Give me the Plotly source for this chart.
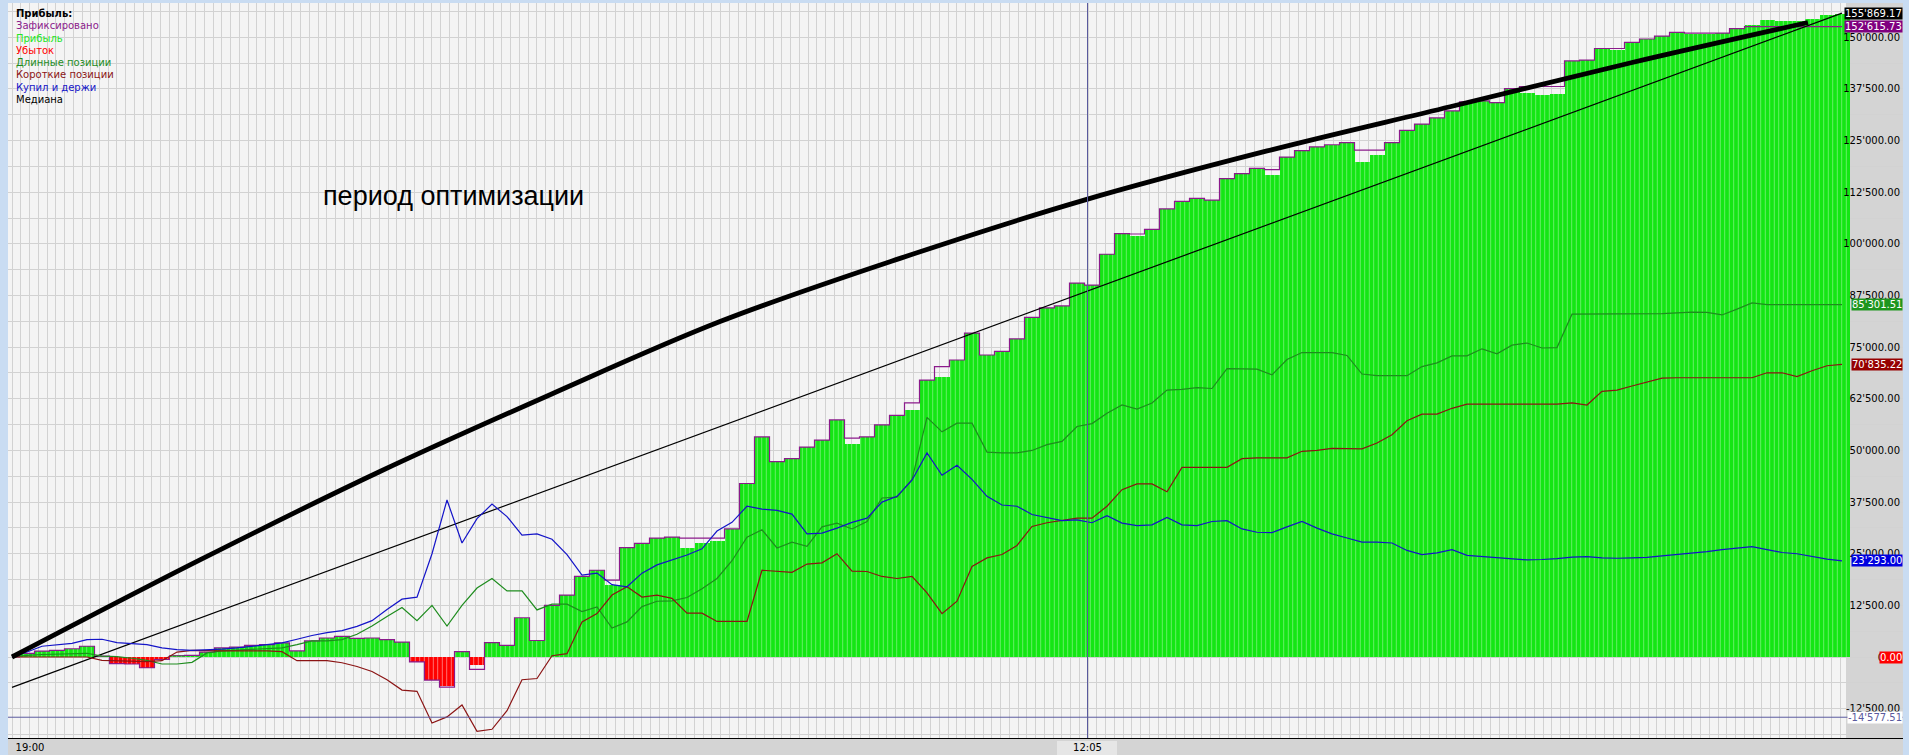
import plotly.graph_objects as go

# ---------------- data (values in thousands) ----------------
time_labels = ["19:00", "12:05"]
time_label_pos = [1.2, 71.7]
cursor_pos = 71.7

profit = [
    0, 0.9, 1.4, 1.6, 2.0, 2.6, 0.2, -1.6, -1.7, -2.6,
    -0.6, 0.3, 0.4, 1.2, 2.2, 2.4, 2.8, 3.0, 3.4, 1.5,
    3.9, 4.6, 5.0, 4.5, 4.6, 4.2, 3.6, -1.2, -5.6, -7.0,
    1.3, -2.0, 3.5, 2.8, 9.5, 4.0, 12.5, 15.0, 19.5, 21.0,
    17.5, 26.5, 27.5, 28.8, 29.0, 26.5, 27.5, 28.0, 31.0, 42.0,
    53.3, 47.3, 48.0, 50.8, 52.5, 57.4, 51.5, 53.3, 56.2, 58.5,
    59.8, 67.0, 67.9, 71.9, 78.4, 73.1, 74.0, 77.0, 82.2, 84.5,
    85.0, 90.5, 90.0, 97.5, 102.5, 102.0, 103.5, 108.5, 110.3, 111.0,
    110.6, 115.8, 117.0, 118.3, 116.8, 121.0, 122.6, 123.5, 124.0, 124.5,
    119.8, 121.5, 124.5, 127.5, 129.0, 130.5, 132.2, 134.4, 134.6, 134.2,
    137.6, 136.5, 136.0, 136.2, 144.3, 144.5, 147.3, 147.0, 148.8, 149.6,
    150.3, 151.2, 150.9, 150.8, 151.0, 152.1, 153.0, 154.3, 154.0, 153.9,
    154.5, 155.3, 155.7,
]

fixed = [
    0, 0.9, 1.4, 1.6, 2.0, 2.6, 0.2, -1.6, -1.7, -2.6,
    -0.6, 0.3, 0.4, 1.2, 2.2, 2.4, 2.8, 3.0, 3.4, 1.5,
    3.9, 4.6, 5.0, 4.5, 4.6, 4.2, 3.6, -1.2, -5.6, -7.3,
    1.3, -3.0, 3.5, 2.8, 9.5, 4.0, 12.5, 15.0, 19.5, 21.0,
    18.6, 26.5, 27.5, 28.8, 29.0, 28.8, 28.8, 28.8, 31.0, 42.0,
    53.3, 47.3, 48.0, 50.8, 52.5, 57.4, 53.0, 53.3, 56.2, 58.5,
    61.5, 67.0, 70.3, 71.9, 78.4, 73.1, 74.0, 77.0, 82.2, 84.5,
    85.0, 90.5, 90.0, 97.5, 102.5, 102.4, 103.5, 108.5, 110.3, 111.0,
    110.6, 115.8, 117.0, 118.3, 118.0, 121.0, 122.6, 123.5, 124.0, 124.5,
    122.7, 122.7, 124.5, 127.5, 129.0, 130.5, 132.2, 134.4, 134.6, 134.2,
    137.6, 138.1, 138.1, 138.1, 144.3, 144.5, 147.3, 147.3, 148.8, 149.6,
    150.3, 151.2, 151.0, 151.0, 151.0, 152.1, 152.6, 152.6, 152.6, 152.6,
    152.6, 152.6, 152.61573,
]

buy_hold = [
    0, 1.2, 2.6, 2.9, 3.3, 4.2, 4.3, 3.5, 3.3, 3.0,
    2.2, 1.8, 1.6, 1.7, 1.9, 2.2, 2.6, 2.9, 3.4, 4.3,
    5.2, 5.9, 6.4, 7.4, 8.8, 11.5, 14.0, 14.5, 25.0, 38.0,
    27.6, 33.5, 37.0, 34.0, 29.5, 29.8, 28.5, 24.8, 19.8, 20.3,
    17.5, 17.0, 20.3, 22.3, 23.5, 24.7, 26.2, 30.5, 32.6, 36.5,
    35.8, 35.5, 34.6, 29.8, 30.0, 31.2, 32.6, 33.6, 37.5, 38.9,
    42.8, 49.4, 44.0, 46.4, 43.0, 38.9, 36.8, 36.5, 34.5, 33.7,
    33.0, 33.2, 32.5, 34.2, 32.4, 31.8, 32.0, 33.8, 32.0, 31.8,
    32.8, 33.0, 31.0, 30.2, 30.1, 31.5, 32.8, 31.2, 29.8, 28.8,
    27.8, 27.8, 27.6, 25.8, 24.8, 25.2, 26.0, 24.6, 24.3, 24.0,
    23.8, 23.5, 23.6, 23.8, 24.2, 24.3, 24.0, 23.9, 24.0, 24.1,
    24.5, 24.8, 25.2, 25.5, 26.0, 26.3, 26.7, 26.0, 25.3, 25.0,
    24.3, 23.7, 23.293,
]

long_pos = [
    0, 0.4, 0.6, 0.7, 0.8, 0.9, 0.2, 0.1, -0.3, -0.8,
    -1.7, -1.7, -1.3, 1.0, 1.5, 1.7, 1.8, 2.0, 2.2, 3.0,
    3.9, 3.9, 4.2, 5.5, 7.5, 9.8, 12.0, 8.8, 12.5, 7.5,
    12.5, 16.7, 19.0, 16.0, 16.0, 11.4, 12.8, 12.8, 11.0, 12.1,
    7.0, 8.5, 12.2, 13.5, 13.6, 14.4, 16.5, 19.0, 23.3, 29.0,
    30.8, 26.4, 27.8, 26.8, 31.5, 32.4, 31.0, 32.8, 38.5, 38.7,
    43.0, 58.0, 54.5, 56.6, 56.6, 49.6, 49.4, 49.4, 50.0, 51.4,
    52.2, 55.8, 56.5, 59.0, 61.0, 60.0, 61.5, 64.6, 64.8, 65.2,
    65.0, 69.8, 69.8, 69.7, 68.3, 72.0, 73.7, 73.7, 73.7, 73.0,
    68.5, 68.1, 68.1, 68.1, 70.3, 71.2, 72.9, 72.9, 74.6, 73.4,
    75.5, 76.0, 74.8, 74.9, 83.0, 83.0, 83.0, 83.0, 83.0, 83.0,
    83.1, 83.3, 83.5, 83.4, 82.8, 84.2, 85.7, 85.3, 85.3, 85.3,
    85.3, 85.3, 85.30151,
]

short_pos = [
    0, 0, 0, 0, 0, 0, -0.8, -0.9, -1.0, -1.1,
    -0.9, 1.2, 1.6, 1.5, 1.5, 1.5, 1.5, 1.5, 1.3, -0.9,
    -0.9, -0.9, -1.4, -2.3, -3.5, -5.5, -8.0, -8.3, -16.0, -14.5,
    -11.6, -18.0, -17.5, -13.0, -5.5, -5.2, 0.3, 0.8, 8.5, 10.5,
    15.0, 17.0, 14.5, 15.0, 14.2, 10.6, 10.6, 8.6, 8.6, 8.6,
    21.0, 20.7, 20.5, 22.5, 22.8, 25.0, 20.8, 20.7, 19.5, 19.0,
    19.5, 15.5, 10.5, 13.5, 21.9, 24.0, 24.8, 27.0, 31.6, 32.5,
    33.0, 33.6, 33.6, 36.5, 40.5, 41.9, 41.9, 40.0, 45.9, 45.9,
    45.9, 45.9, 48.0, 48.2, 48.2, 48.2, 49.8, 50.0, 50.5, 50.4,
    50.4, 51.8, 53.8, 57.2, 58.8, 58.8, 60.2, 61.2, 61.2, 61.2,
    61.2, 61.2, 61.2, 61.2, 61.5, 61.0, 64.3, 64.6, 65.6, 66.6,
    67.5, 67.6, 67.6, 67.6, 67.6, 67.6, 67.6, 68.8, 68.8, 67.9,
    69.3, 70.5, 70.83522,
]

median_x = [0, 12.53, 24.53, 35.87, 47.2, 59.2, 71.2, 83.67, 95.87, 107.87, 119.73]
median_y = [0, 23.5, 44.9, 63.5, 81.2, 96.5, 110.3, 122.5, 133.2, 143.8, 153.6]

trend_x = [0, 122]
trend_y = [-7.35, 155.86917]

drawdown_level = -14.57751
loss_end = 0.0

y_tick_vals = [150, 137.5, 125, 112.5, 100, 87.5, 75, 62.5, 50, 37.5, 25, 12.5, 0, -12.5]
y_tick_text = ["150'000.00", "137'500.00", "125'000.00", "112'500.00", "100'000.00",
               "87'500.00", "75'000.00", "62'500.00", "50'000.00", "37'500.00",
               "25'000.00", "12'500.00", "0.00", "-12'500.00"]

legend_title = "Прибыль:"
legend_names = ["Зафиксировано", "Прибыль", "Убыток", "Длинные позиции",
                "Короткие позиции", "Купил и держи", "Медиана"]

# ---------------- styles ----------------
C_FIXED = "#8B1A8B"
C_PROFIT = "#14E614"
C_LOSS = "#FF0000"
C_LONG = "#1E8C1E"
C_SHORT = "#8B1414"
C_BH = "#1414C8"
C_MED = "#000000"
C_SLATE = "#5A5A9E"
GRID = "#D2D2D2"
FONT = "DejaVu Sans"

W, H = 1909, 755
ML, MR, MT, MB = 8, 6, 3, 17
PW, PH = W - ML - MR, H - MT - MB


def px_x(p):
    return (p - ML) / PW


def px_y(p):
    return 1 - (p - MT) / PH


def fmt(v):
    return f"{v * 1000:,.2f}".replace(",", "'")


x_idx = list(range(len(profit)))
profit_pos = [v if v > 0 else None for v in profit]
profit_neg = [v if v < 0 else None for v in profit]

fig = go.Figure()
fig.add_trace(go.Scatter(x=x_idx, y=fixed, mode="lines", name=legend_names[0],
                         line=dict(color=C_FIXED, width=1.2, shape="hvh")))
fig.add_trace(go.Bar(x=x_idx, y=profit_pos, name=legend_names[1], width=1.0,
                     marker=dict(color=C_PROFIT, line=dict(width=0),
                                 pattern=dict(shape="|", size=4.5, solidity=0.18,
                                              bgcolor=C_PROFIT, fgcolor="#7CF07C",
                                              fillmode="replace"))))
fig.add_trace(go.Bar(x=x_idx, y=profit_neg, name=legend_names[2], width=1.0,
                     marker=dict(color=C_LOSS, line=dict(width=0),
                                 pattern=dict(shape="|", size=4.5, solidity=0.18,
                                              bgcolor=C_LOSS, fgcolor="#FF8C8C",
                                              fillmode="replace"))))
fig.add_trace(go.Scatter(x=trend_x, y=trend_y, mode="lines", name="trend",
                         line=dict(color=C_MED, width=1.2)))
fig.add_trace(go.Scatter(x=x_idx, y=long_pos, mode="lines", name=legend_names[3],
                         line=dict(color=C_LONG, width=1.2)))
fig.add_trace(go.Scatter(x=x_idx, y=short_pos, mode="lines", name=legend_names[4],
                         line=dict(color=C_SHORT, width=1.2)))
fig.add_trace(go.Scatter(x=x_idx, y=buy_hold, mode="lines", name=legend_names[5],
                         line=dict(color=C_BH, width=1.2)))
fig.add_trace(go.Scatter(x=median_x, y=median_y, mode="lines", name=legend_names[6],
                         line=dict(color=C_MED, width=4.8, shape="spline", smoothing=1.0)))

x_left = (ML - 12) / 15
x_right = (W - MR - 12) / 15
y_bottom = -(738 - 657) / 4.131
y_top = (657 - MT) / 4.131

shapes = [
    dict(type="rect", xref="paper", yref="paper", x0=px_x(1846), x1=1, y0=0, y1=1,
         fillcolor="#D4D4D4", line=dict(width=0), layer="between"),
    dict(type="rect", xref="paper", yref="paper", x0=0, x1=1, y0=-(MB / PH), y1=0,
         fillcolor="#D4D4D4", line=dict(width=0), layer="below"),
    dict(type="line", xref="paper", yref="y", x0=0, x1=1, y0=drawdown_level, y1=drawdown_level,
         line=dict(color=C_SLATE, width=1), layer="above"),
    dict(type="line", xref="x", yref="paper", x0=cursor_pos, x1=cursor_pos, y0=0, y1=1,
         line=dict(color=C_SLATE, width=1), layer="above"),
    dict(type="rect", xref="paper", yref="paper", x0=px_x(1057), x1=px_x(1117),
         y0=-(MB / PH), y1=-(3 / PH), fillcolor="#E6E6E6", line=dict(width=0), layer="below"),
]

annotations = []
annotations.append(dict(text="<b>" + legend_title + "</b>", xref="paper", yref="paper",
                        x=px_x(14), y=px_y(14), xanchor="left", yanchor="middle",
                        showarrow=False, font=dict(family=FONT, size=10, color="black")))
leg_colors = [C_FIXED, "#22E622", C_LOSS, C_LONG, C_SHORT, C_BH, "black"]
for k, (name, col) in enumerate(zip(legend_names, leg_colors)):
    annotations.append(dict(text=name, xref="paper", yref="paper",
                            x=px_x(14), y=px_y(26 + 12.2 * k), xanchor="left", yanchor="middle",
                            showarrow=False, font=dict(family=FONT, size=10, color=col)))

annotations.append(dict(text="период оптимизации", xref="paper", yref="paper",
                        x=px_x(453), y=px_y(196), xanchor="center", yanchor="middle",
                        showarrow=False, font=dict(family="Liberation Sans", size=27, color="black")))

end_labels = [
    (trend_y[-1], "black", "white"),
    (fixed[-1], "#800080", "white"),
    (long_pos[-1], "#1E961E", "white"),
    (short_pos[-1], "#960000", "white"),
    (buy_hold[-1], "#0000E0", "white"),
    (loss_end, "#FF0000", "white"),
    (drawdown_level, "white", C_SLATE),
]
for val, bg, fc in end_labels:
    annotations.append(dict(text=fmt(val), xref="paper", yref="y", x=1, y=val,
                            xanchor="right", yanchor="middle", showarrow=False,
                            bgcolor=bg, borderpad=0,
                            font=dict(family=FONT, size=10, color=fc)))

fig.update_layout(
    width=W, height=H,
    margin=dict(l=ML, r=MR, t=MT, b=MB),
    paper_bgcolor="#C9DCF2",
    plot_bgcolor="#F4F4F4",
    showlegend=False,
    barmode="overlay",
    bargap=0,
    shapes=shapes,
    annotations=annotations,
    xaxis=dict(range=[x_left, x_right], tickmode="array", tickvals=time_label_pos,
               ticktext=time_labels, showgrid=False, zeroline=False,
               showline=True, linecolor="black", linewidth=1, ticks="",
               tickfont=dict(family=FONT, size=10, color="black"),
               minor=dict(tickmode="linear", tick0=0, dtick=0.5833, showgrid=True,
                          gridcolor=GRID, gridwidth=1)),
    yaxis=dict(range=[y_bottom, y_top], side="right", tickmode="array",
               tickvals=y_tick_vals, ticktext=y_tick_text, ticklabelposition="inside",
               ticks="", showgrid=True, gridcolor=GRID, gridwidth=1, zeroline=False,
               showline=False, tickfont=dict(family=FONT, size=10, color="black"),
               minor=dict(tickmode="linear", tick0=0, dtick=6.25, showgrid=True,
                          gridcolor=GRID, gridwidth=1)),
)

fig.write_html("out.html", config={"displayModeBar": False},
               post_script="document.body.style.margin='0';document.body.style.overflow='hidden';")
